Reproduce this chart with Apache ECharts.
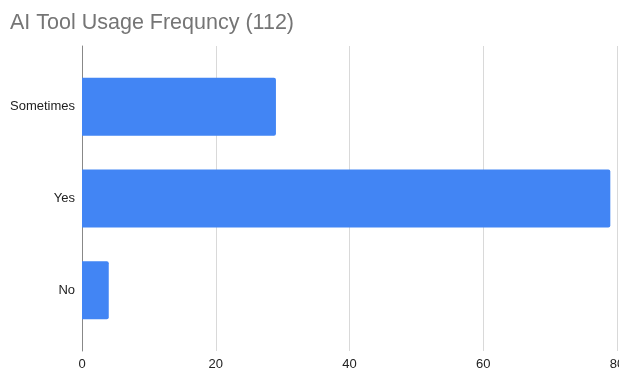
<!DOCTYPE html>
<html>
<head>
<meta charset="utf-8">
<script src="https://cdn.jsdelivr.net/npm/echarts@6/dist/echarts.min.js"></script>
<style>
  html, body { margin: 0; padding: 0; background: #fff; }
  #chartData { width: 619px; height: 370px; }
</style>
</head>
<body>
<div id="chartData"></div>
<script>
// data
var categories = ['No', 'Yes', 'Sometimes'];
var counts = [4, 79, 29];
var xTicks = [0, 20, 40, 60, 80];

var myChart = echarts.init(document.getElementById('chartData'));

var option = {
    title: {
        text: 'AI Tool Usage Frequncy (112)',
        left: 5,
        top: 7,
        textStyle: {
            fontFamily: 'Liberation Sans, Arial, sans-serif',
            fontSize: 21.5,
            fontWeight: 'normal',
            color: '#757575'
        }
    },
    grid: [
        // full height grid: gridlines + tick labels
        { left: 82, right: 2, top: 46, bottom: 19, outerBoundsMode: 'none', containLabel: false },
        // bars
        { left: 82, right: 2, top: 61, bottom: 34, outerBoundsMode: 'none', containLabel: false }
    ],
    xAxis: [{
        gridIndex: 0,
        type: 'value',
        min: xTicks[0],
        max: xTicks[xTicks.length - 1],
        interval: 20,
        axisLine: { show: false },
        axisTick: { show: false },
        splitLine: { lineStyle: { color: '#d9d9d9', width: 1 } },
        axisLabel: {
            margin: 7,
            color: '#222',
            fontSize: 13,
            fontFamily: 'Liberation Sans, Arial, sans-serif'
        }
    }, {
        gridIndex: 1,
        type: 'value',
        min: xTicks[0],
        max: xTicks[xTicks.length - 1],
        show: false
    }],
    yAxis: [{
        gridIndex: 0,
        type: 'category',
        data: [''],
        axisLine: { show: true, lineStyle: { color: '#888', width: 1 } },
        axisTick: { show: false },
        axisLabel: { show: false }
    }, {
        gridIndex: 1,
        type: 'category',
        data: categories,
        axisLine: { show: false },
        axisTick: { show: false },
        axisLabel: {
            margin: 7,
            color: '#222',
            fontSize: 13,
            fontFamily: 'Liberation Sans, Arial, sans-serif'
        }
    }],
    series: [{
        type: 'bar',
        xAxisIndex: 1,
        yAxisIndex: 1,
        data: counts,
        barWidth: 58,
        itemStyle: { color: '#4285f4', borderRadius: [0, 2, 2, 0] }
    }]
};

myChart.setOption(option);
</script>
</body>
</html>
